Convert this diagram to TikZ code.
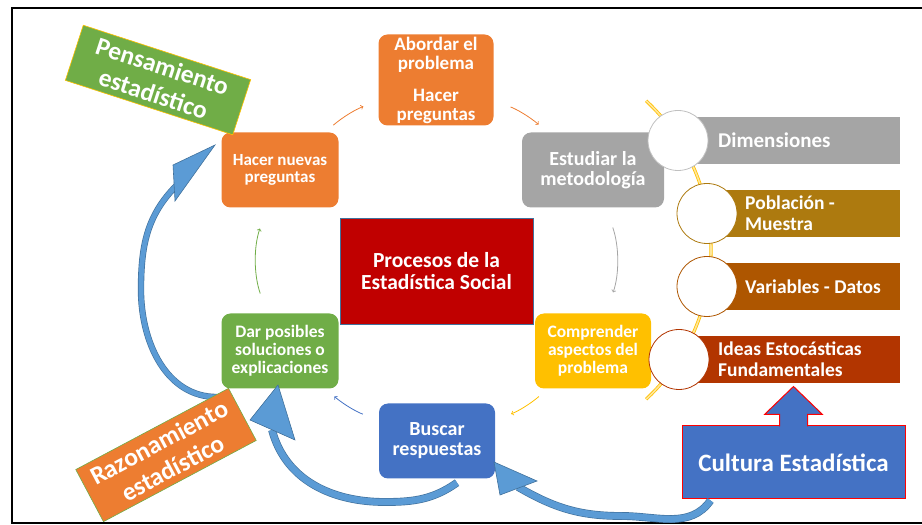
\documentclass[tikz,border=0pt]{standalone}
\usepackage{fontspec}
\setmainfont{Carlito}
\usetikzlibrary{arrows}
\usetikzlibrary{positioning}
\definecolor{naranja}{HTML}{ED7D31}
\definecolor{gris}{HTML}{A5A5A5}
\definecolor{amarillo}{HTML}{FFC000}
\definecolor{azul}{HTML}{4472C4}
\definecolor{verde}{HTML}{70AD47}
\definecolor{rojo}{HTML}{C00000}
\definecolor{celeste}{HTML}{5B9BD5}
\definecolor{celesteborde}{HTML}{41719C}
\definecolor{oro}{HTML}{AD7A0F}
\definecolor{cafe}{HTML}{AE5600}
\definecolor{ladrillo}{HTML}{B23500}
\newcommand\tam[1]{\fontsize{#1}{#1}\selectfont\bfseries}
\tikzset{paso/.style = {rounded corners=9pt, text=white, align=center,
                        minimum width=117pt, minimum height=75pt, inner sep=1pt,
                        font=\fontsize{17.5}{18}\selectfont\bfseries},
         rotulo/.style = {text=white, align=center, inner sep=0pt,
                          font=\fontsize{25.5}{29}\selectfont\bfseries},
         barra/.style = {text=white, align=left, anchor=west, inner sep=0pt,
                         font=\fontsize{19.5}{21}\selectfont\bfseries},
         circulo/.style = {circle, fill=white, minimum size=60pt, line width=0.8pt},
         flechita/.style = {->, line width=0.8pt},
         bloque/.style = {celeste, preaction={draw=celesteborde, line width=#1+1.3pt},
                          line width=#1},
         punta/.style = {fill=celeste, draw=celesteborde, line width=0.6pt}}

\begin{document}
\begin{tikzpicture}[x=1pt, y=1pt, >=to]
  \useasboundingbox (0,0) rectangle (922,525);
  \draw [line width=2.5pt] (940,517) -- (12,517) -- (12,2) -- (940,2);

  % ciclo de procesos
  \node [paso, fill=naranja, font=\fontsize{17}{17.5}\selectfont\bfseries] (hacer) at (280,355)
        {Hacer nuevas\\preguntas};
  \node [paso, fill=naranja, minimum width=115pt, minimum height=91pt, font=\tam{19}]
        (abordar) at (436,445) {Abordar el\\problema\\[13pt]Hacer\\preguntas};
  \node [paso, fill=gris, minimum width=142pt, font=\tam{20}] (estudiar) at (593,355)
        {Estudiar la\\metodología};
  \node [paso, fill=amarillo, minimum width=116pt] (comprender) at (593,174)
        {Comprender\\aspectos del\\problema};
  \node [paso, fill=azul, minimum width=116pt, font=\tam{20}] (buscar) at (437,84)
        {Buscar\\respuestas};
  \node [paso, fill=verde] (dar) at (280,174) {Dar posibles\\soluciones o\\explicaciones};
  \node [fill=rojo, draw=celesteborde, text=white, align=center, minimum width=193pt,
         minimum height=106pt, font=\tam{21.5}]
        (procesos) at (436.5,254) {Procesos de la\\Estadística Social};

  \draw [flechita, naranja, shorten <=11pt, shorten >=16pt] (hacer) to [bend left=10] (abordar);
  \draw [flechita, naranja, shorten <=18pt, shorten >=12pt] (abordar) to [bend left=10] (estudiar);
  \draw [flechita, gris, shorten <=21pt, shorten >=22pt] (estudiar) to [bend left=19] (comprender);
  \draw [flechita, amarillo, shorten <=12pt, shorten >=17pt] (comprender) to [bend left=10] (buscar);
  \draw [flechita, azul, shorten <=17pt, shorten >=12pt] (buscar) to [bend left=10] (dar);
  \draw [flechita, verde, shorten <=21pt, shorten >=22pt] (dar) to [bend left=19] (hacer);

  % ideas de la cultura estadistica
  \draw [amarillo, line width=0.8pt, double=amarillo!40, double distance=1.6pt]
        (507,275) ++(47:204) arc [start angle=47, end angle=-47, radius=204];
  \fill [gris] (678,361) rectangle (900,408);
  \fill [oro] (707,288) rectangle (900,335);
  \fill [cafe] (707,215) rectangle (900,262);
  \fill [ladrillo] (679,142) rectangle (900,189);
  \node [circulo, draw=gris!70] (c1) at (678,384.5) {};
  \node [circulo, draw=oro] (c2) at (707,311.5) {};
  \node [circulo, draw=cafe] (c3) at (707,238.5) {};
  \node [circulo, draw=ladrillo] (c4) at (679,165.5) {};
  \node [barra, font=\tam{21}] (dimensiones) at (718,384.5) {Dimensiones};
  \node [barra] (poblacion) at (745,311.5) {Población -\\Muestra};
  \node [barra] (variables) at (745,238.5) {Variables - Datos};
  \node [barra] (ideas) at (718,165.5) {Ideas Estocásticas\\Fundamentales};

  \node [fill=azul, draw=red, line width=1pt, text=white, minimum width=223pt,
         minimum height=73pt, font=\tam{25}] (cultura) at (793.5,62.5) {Cultura Estadística};
  \filldraw [fill=azul, draw=red, line width=1pt] ([xshift=-14pt, yshift=-1pt]cultura.north)
        -- ++(0,12) -- ++(-15,0) -- ++(29,28) -- ++(29,-28) -- ++(-15,0) -- ++(0,-12);

  % flechas grandes
  \draw [bloque=5pt] (217,128) to [out=180, in=-90] (141,235) to [out=90, in=225] (177,340);
  \filldraw [punta] (215,380) -- (173,360) -- (175,324) -- cycle;

  \node [rotulo, fill=verde, draw=amarillo, line width=0.6pt, rotate=-18,
         minimum width=176pt, minimum height=58pt] (pensamiento) at (158,445) {Pensamiento\\estadístico};
  \node [rotulo, fill=naranja, draw=verde, line width=0.6pt, rotate=28,
         minimum width=173pt, minimum height=59pt] (razonamiento) at (166,70) {Razonamiento\\estadístico};

  \draw [bloque=6.5pt] ([xshift=20pt, yshift=-4pt]buscar.south) to [out=215, in=0] (385,23)
        to [out=180, in=-75] (272,95);
  \filldraw [punta] (278,140) -- (250,105) -- (295,85) -- cycle;

  \draw [bloque=6.5pt] ([xshift=-83pt, yshift=-1pt]cultura.south) to [out=235, in=0] (622,9)
        to [out=180, in=-30] (518,38);
  \filldraw [punta] (494,63) -- (537,44) -- (500,30) -- cycle;
\end{tikzpicture}
\end{document}
